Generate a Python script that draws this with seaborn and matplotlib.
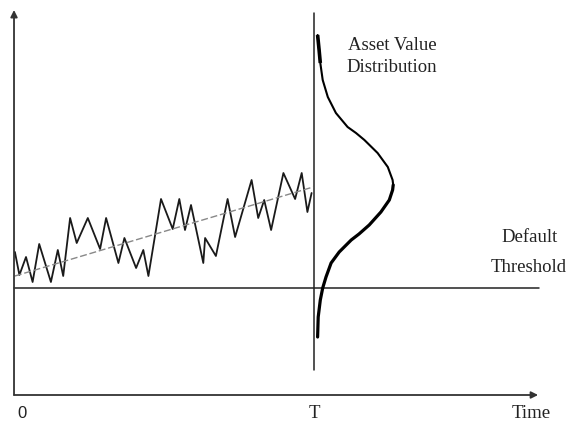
import numpy as np
import pandas as pd
import seaborn as sns
import matplotlib
matplotlib.use("Agg")
import matplotlib.pyplot as plt

# asset value path over time (0 .. T=10)
path_time = [0.03, 0.18, 0.40, 0.62, 0.84, 1.23, 1.46, 1.64, 1.87, 2.09, 2.46, 2.87,
             3.07, 3.48, 3.68, 4.07, 4.31, 4.48, 4.90, 5.29, 5.51, 5.70, 5.90, 6.31,
             6.37, 6.73, 7.12, 7.37, 7.92, 8.14, 8.34, 8.57, 8.98, 9.37, 9.59, 9.78, 9.92]
path_value = [14.3, 12.0, 13.8, 11.3, 15.1, 11.3, 14.5, 11.9, 17.7, 15.2, 17.7, 14.6,
              17.7, 13.2, 15.7, 12.7, 14.5, 11.9, 19.6, 16.6, 19.6, 16.5, 19.0, 13.2,
              15.7, 13.9, 19.6, 15.8, 21.5, 17.7, 19.5, 16.5, 22.2, 19.6, 22.2, 18.3, 20.2]

# drift line
trend_time = [0.03, 9.97]
trend_value = [11.9, 20.8]

# asset value distribution at T (level, horizontal density width)
dist_value = [36.0, 34.5, 33.2, 31.5, 29.8, 28.2, 26.8, 26.2, 25.5, 24.2, 22.8, 21.5,
              21.0, 20.5, 19.5, 18.3, 17.0, 16.1, 15.5, 14.3, 13.2, 11.8, 10.7, 9.5,
              7.8, 5.8]
dist_density = [0.12, 0.17, 0.21, 0.29, 0.46, 0.73, 1.12, 1.40, 1.68, 2.12, 2.46, 2.62,
                2.64, 2.62, 2.51, 2.23, 1.84, 1.50, 1.24, 0.84, 0.57, 0.40, 0.29, 0.21,
                0.14, 0.12]

T = 10
threshold = 10.7
t_end = 17.47
v_top = 38.5

sns.set_style("white")

fig = plt.figure(figsize=(5.69, 4.23), dpi=100)
ax = fig.add_axes([0, 0, 1, 1])
ax.axis("off")

axis_color = "#333333"
serif = "Liberation Serif"

# axes with arrows
ax.annotate("", xy=(0, v_top), xytext=(0, 0),
            arrowprops=dict(arrowstyle="-|>", color=axis_color, lw=1.3, mutation_scale=10,
                            shrinkA=0, shrinkB=0))
ax.annotate("", xy=(t_end, 0), xytext=(0, 0),
            arrowprops=dict(arrowstyle="-|>", color=axis_color, lw=1.3, mutation_scale=10,
                            shrinkA=0, shrinkB=0))

# default threshold and maturity line
ax.plot([0, 17.5], [threshold, threshold], color="#222222", lw=1.1)
ax.plot([T, T], [2.5, 38.2], color="#222222", lw=1.1)

path_df = pd.DataFrame({"time": path_time, "value": path_value})
sns.lineplot(data=path_df, x="time", y="value", sort=False, ax=ax,
             color="#1a1a1a", lw=1.3)
sns.lineplot(x=trend_time, y=trend_value, ax=ax, color="#888888", lw=1.0,
             linestyle=(0, (5, 2)))

dist_df = pd.DataFrame({"x": T + np.array(dist_density), "value": dist_value})
upper = dist_df.iloc[:13]
lower = dist_df.iloc[12:]
sns.lineplot(data=upper, x="x", y="value", sort=False, ax=ax, color="black", lw=1.5,
             solid_joinstyle="round", solid_capstyle="round")
sns.lineplot(data=lower, x="x", y="value", sort=False, ax=ax, color="black", lw=2.3,
             solid_joinstyle="round")
ax.plot(dist_df["x"][:3], dist_df["value"][:3], color="black", lw=2.6,
        solid_capstyle="butt")

ax.set_xlim(-0.467, 18.5)
ax.set_ylim(-2.8, 39.5)

ax.text(0.27, -1.8, "0", family="Liberation Sans", fontsize=12, ha="center", va="center",
        color="#222222")
ax.text(T, -1.8, "T", family=serif, fontsize=13.5, ha="center", va="center", color="#222222")
ax.text(17.23, -1.8, "Time", family=serif, fontsize=13.5, ha="center", va="center",
        color="#222222")
ax.text(12.6, 35.0, "Asset Value", family=serif, fontsize=13.5, ha="center", va="center",
        color="#222222")
ax.text(12.6, 32.7, "Distribution", family=serif, fontsize=13.5, ha="center", va="center",
        color="#222222")
ax.text(17.17, 15.8, "Default", family=serif, fontsize=13.5, ha="center", va="center",
        color="#222222")
ax.text(17.17, 12.7, "Threshold", family=serif, fontsize=13.5, ha="center", va="center",
        color="#222222")

fig.savefig("out.png", dpi=100)
